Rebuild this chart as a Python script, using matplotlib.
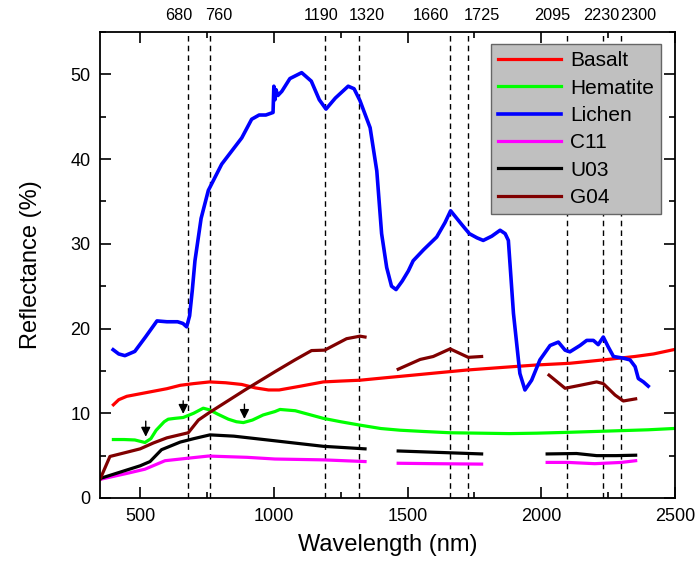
# reflectance spectra of basalt, hematite, lichen and three samples
# dashed lines mark the absorption features, labelled on the top axis

import matplotlib as mpl
mpl.use('Agg')
import numpy as np
import matplotlib.pyplot as plt
from matplotlib.ticker import MultipleLocator

plt.rcParams['font.family'] = ['Liberation Sans', 'DejaVu Sans']

# ---- data ----
basalt_x = [400, 420, 450, 500, 550, 600, 650, 700, 760, 820, 880, 930, 980, 1020,
            1100, 1185, 1250, 1322, 1420, 1521, 1620, 1721, 1850, 1983, 2107,
            2232, 2350, 2420, 2494]
basalt_y = [11.0, 11.6, 12.0, 12.3, 12.6, 12.9, 13.3, 13.5, 13.7, 13.6, 13.4, 13.0,
            12.75, 12.75, 13.2, 13.7, 13.8, 13.9, 14.2, 14.5, 14.8, 15.1, 15.4,
            15.7, 15.9, 16.3, 16.7, 17.0, 17.5]

hematite_x = [400, 440, 480, 518, 540, 560, 590, 605, 630, 661, 700, 736, 760,
              790, 830, 860, 886, 920, 960, 1004, 1023, 1080, 1185, 1250, 1322,
              1400, 1472, 1560, 1659, 1771, 1880, 1983, 2100, 2250, 2400, 2494]
hematite_y = [6.9, 6.9, 6.85, 6.55, 7.0, 8.0, 9.0, 9.3, 9.4, 9.5, 10.0, 10.6,
              10.4, 9.9, 9.3, 9.0, 8.9, 9.2, 9.8, 10.2, 10.45, 10.3, 9.4, 9.0,
              8.6, 8.2, 8.0, 7.85, 7.7, 7.65, 7.6, 7.65, 7.75, 7.9, 8.05, 8.2]

lichen_x = [399, 420, 443, 480, 520, 563, 600, 640, 660, 674, 685, 695, 705, 728,
            755, 805, 880, 917, 945, 970, 997, 1000, 1004, 1008, 1015, 1030, 1060,
            1104, 1140, 1170, 1195, 1230, 1278, 1300, 1322, 1360, 1385, 1403, 1422,
            1440, 1457, 1480, 1503, 1521, 1560, 1609, 1640, 1661, 1702, 1731, 1760,
            1783, 1815, 1846, 1865, 1877, 1896, 1920, 1939, 1964, 1995, 2033, 2064,
            2089, 2107, 2145, 2170, 2195, 2213, 2232, 2251, 2270, 2307, 2332, 2351,
            2363, 2382, 2400]
lichen_y = [17.5, 17.0, 16.8, 17.3, 19.0, 20.9, 20.8, 20.8, 20.6, 20.2, 21.5, 24.5,
            28.0, 33.0, 36.3, 39.4, 42.5, 44.7, 45.2, 45.2, 45.5, 48.6, 47.0, 48.2,
            47.5, 48.0, 49.5, 50.2, 49.2, 47.0, 45.9, 47.2, 48.6, 48.3, 46.9, 43.7,
            38.6, 31.2, 27.2, 25.0, 24.6, 25.6, 26.8, 28.0, 29.3, 30.8, 32.5, 33.9,
            32.3, 31.2, 30.7, 30.4, 30.9, 31.6, 31.2, 30.4, 21.8, 14.7, 12.75, 13.9,
            16.3, 18.0, 18.4, 17.45, 17.25, 18.0, 18.6, 18.6, 18.1, 19.0, 17.8, 16.7,
            16.5, 16.3, 15.5, 14.1, 13.7, 13.2]

# C11, U03 and G04 are cut into three pieces (water bands removed)
c11_x = [[350, 450, 518, 593, 680, 755, 900, 1004, 1185, 1341],
         [1465, 1600, 1777],
         [2022, 2100, 2200, 2300, 2353]]
c11_y = [[2.2, 2.9, 3.4, 4.4, 4.7, 4.95, 4.8, 4.6, 4.5, 4.3],
         [4.1, 4.05, 4.0],
         [4.2, 4.2, 4.05, 4.2, 4.4]]

u03_x = [[350, 450, 500, 537, 580, 650, 700, 761, 850, 1004, 1185, 1341],
         [1465, 1600, 1777],
         [2022, 2132, 2207, 2280, 2353]]
u03_y = [[2.3, 3.3, 3.8, 4.3, 5.7, 6.6, 7.0, 7.45, 7.3, 6.75, 6.1, 5.8],
         [5.55, 5.4, 5.2],
         [5.2, 5.25, 5.0, 5.0, 5.05]]

g04_x = [[350, 387, 450, 500, 550, 600, 680, 718, 755, 892, 1004, 1079, 1141, 1190,
          1272, 1322, 1341],
         [1465, 1547, 1596, 1659, 1727, 1777],
         [2029, 2089, 2145, 2207, 2232, 2276, 2307, 2353]]
g04_y = [[2.2, 4.9, 5.4, 5.8, 6.5, 7.1, 7.7, 9.2, 10.0, 12.75, 14.9, 16.3, 17.4,
          17.45, 18.8, 19.1, 19.0],
         [15.2, 16.35, 16.7, 17.6, 16.6, 16.7],
         [14.5, 12.95, 13.3, 13.7, 13.5, 12.15, 11.45, 11.7]]

features = [680, 760, 1190, 1320, 1660, 1725, 2095, 2230, 2300]
# sideways nudge of each top label (pixels) so they do not overlap
label_shift = [-10, 9, -4, 7, -19, 14, -14, -2, 17]

# arrows on the hematite curve: x, top of arrow, tip
arrows = [(521, 9.4, 6.9), (661, 11.8, 9.6), (890, 11.4, 9.0)]

fig = plt.figure(figsize=(6.98, 5.67), dpi=100)
ax = fig.add_axes([0.1433, 0.1217, 0.8237, 0.8219])

lw = 2.3
for xv in features:
    ax.axvline(xv, color='black', lw=1.0, ls=(0, (4, 3)), zorder=1)

ax.plot(basalt_x, basalt_y, color='#ff0000', lw=lw, label='Basalt')
ax.plot(hematite_x, hematite_y, color='#00ff00', lw=lw, label='Hematite')
ax.plot(lichen_x, lichen_y, color='#0000ff', lw=lw + 0.3, label='Lichen')
for i in range(3):
    ax.plot(c11_x[i], c11_y[i], color='#ff00ff', lw=lw,
            label='C11' if i == 0 else None)
for i in range(3):
    ax.plot(u03_x[i], u03_y[i], color='black', lw=lw,
            label='U03' if i == 0 else None)
for i in range(3):
    ax.plot(g04_x[i], g04_y[i], color='#800000', lw=lw,
            label='G04' if i == 0 else None)

for xa, y0, y1 in arrows:
    ax.annotate('', xy=(xa, y1), xytext=(xa, y0),
                arrowprops=dict(arrowstyle='-|>', color='black', lw=1.0,
                                mutation_scale=14))

ax.set_xlim(350, 2500)
ax.set_ylim(0, 55)
ax.xaxis.set_major_locator(MultipleLocator(500))
ax.xaxis.set_minor_locator(MultipleLocator(250))
ax.yaxis.set_major_locator(MultipleLocator(10))
ax.yaxis.set_minor_locator(MultipleLocator(5))
ax.tick_params(which='both', direction='in', top=True, right=True, width=1.2,
               labelsize=13, pad=7)
ax.tick_params(which='major', length=8)
ax.tick_params(which='minor', length=4)
for s in ax.spines.values():
    s.set_linewidth(1.3)

ax.set_xlabel('Wavelength (nm)', fontsize=17, labelpad=7)
ax.set_ylabel('Reflectance (%)', fontsize=17, labelpad=20)

# feature labels above the top axis
for xv, dx in zip(features, label_shift):
    ax.annotate(str(xv), xy=(xv, 1), xycoords=('data', 'axes fraction'),
                xytext=(dx, 9), textcoords='offset pixels',
                ha='center', va='bottom', fontsize=11.7)

leg = ax.legend(loc='upper right', bbox_to_anchor=(0.976, 0.974), fontsize=15,
                fancybox=False, framealpha=1, facecolor='#c0c0c0',
                edgecolor='#666666', handlelength=3.0, labelspacing=0.4,
                borderaxespad=0, handletextpad=0.45, borderpad=0.35)
leg.get_frame().set_linewidth(1.0)

plt.savefig('out.png', dpi=100)
